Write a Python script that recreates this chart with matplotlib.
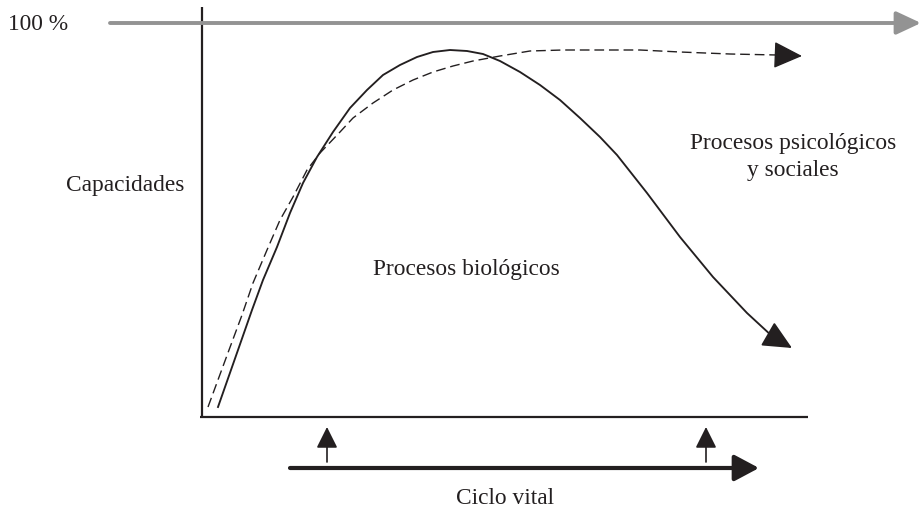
import matplotlib
matplotlib.use('Agg')
import matplotlib.pyplot as plt

# curve points (pixel coordinates, y grows downward)
bio_x = [218, 238, 252, 263, 277, 290, 303, 317, 333, 350, 367, 383, 400, 417, 433, 450,
         467, 483, 500, 520, 540, 560, 580, 600, 617, 647, 680, 713, 747, 773, 792]
bio_y = [407, 350, 310, 280, 247, 213, 183, 157, 132, 108, 90, 75, 65, 57, 52, 50,
         51, 54, 61, 72, 85, 100, 118, 137, 155, 193, 237, 277, 313, 337, 348]

psi_x = [208, 229, 242, 253, 267, 280, 293, 307, 320, 340, 353, 373, 393, 413, 433, 453,
         473, 500, 530, 563, 597, 640, 680, 730, 777, 802]
psi_y = [407, 350, 315, 283, 250, 220, 197, 170, 153, 132, 118, 103, 90, 80, 72, 66,
         61, 56, 51, 50, 50, 50, 52, 54, 55, 56]

# milestones on the life cycle axis
hitos_x = [327, 706]

labels = {
    'top': '100 %',
    'y': 'Capacidades',
    'bio': 'Procesos biológicos',
    'psi': 'Procesos psicológicos\ny sociales',
    'x': 'Ciclo vital',
}

fig = plt.figure(figsize=(9.24, 5.12), dpi=100)
ax = fig.add_axes([0, 0, 1, 1])
ax.set_xlim(0, 924)
ax.set_ylim(512, 0)
ax.axis('off')

font = dict(family='Liberation Serif', fontsize=16.8, color='#231f20')
ink = '#231f20'


def arrow(x0, y0, x1, y1, lw, hl, hw, color=ink):
    ax.annotate('', xy=(x1, y1), xytext=(x0, y0),
                arrowprops=dict(arrowstyle=f'-|>,head_length={hl},head_width={hw}',
                                lw=lw, color=color, shrinkA=0, shrinkB=0,
                                mutation_scale=1))


# 100 % gray arrow
arrow(110, 23, 921, 23, 2.8, 15, 7, color='#939393')

# axes
ax.plot([202, 202], [7, 418], color=ink, lw=1.6, solid_capstyle='butt')
ax.plot([200, 808], [417, 417], color=ink, lw=1.6, solid_capstyle='butt')

# biological curve (solid)
ax.plot(bio_x[:-1], bio_y[:-1], color=ink, lw=1.35, solid_joinstyle='round')
arrow(bio_x[-2], bio_y[-2], bio_x[-1], bio_y[-1], 1.35, 18, 8.5)

# psychological / social curve (dashed)
ax.plot(psi_x[:-1], psi_y[:-1], color=ink, lw=1.0, linestyle=(0, (7, 3.5)))
arrow(psi_x[-2], psi_y[-2], psi_x[-1], psi_y[-1], 1.0, 18, 8.5)

# life cycle arrow
arrow(290, 468, 759, 468, 3.0, 15, 8)
for hx in hitos_x:
    arrow(hx, 462, hx, 427, 1.2, 13, 6.5)

# texts
ax.text(8, 24, labels['top'], ha='left', va='center', **font)
ax.text(125, 185, labels['y'], ha='center', va='center', **font)
ax.text(466, 270, labels['bio'], ha='center', va='center', **font)
ax.text(793, 157, labels['psi'], ha='center', va='center', multialignment='center',
        linespacing=1.35, **font)
ax.text(505, 498, labels['x'], ha='center', va='center', **font)

fig.savefig('out.png', dpi=100)
